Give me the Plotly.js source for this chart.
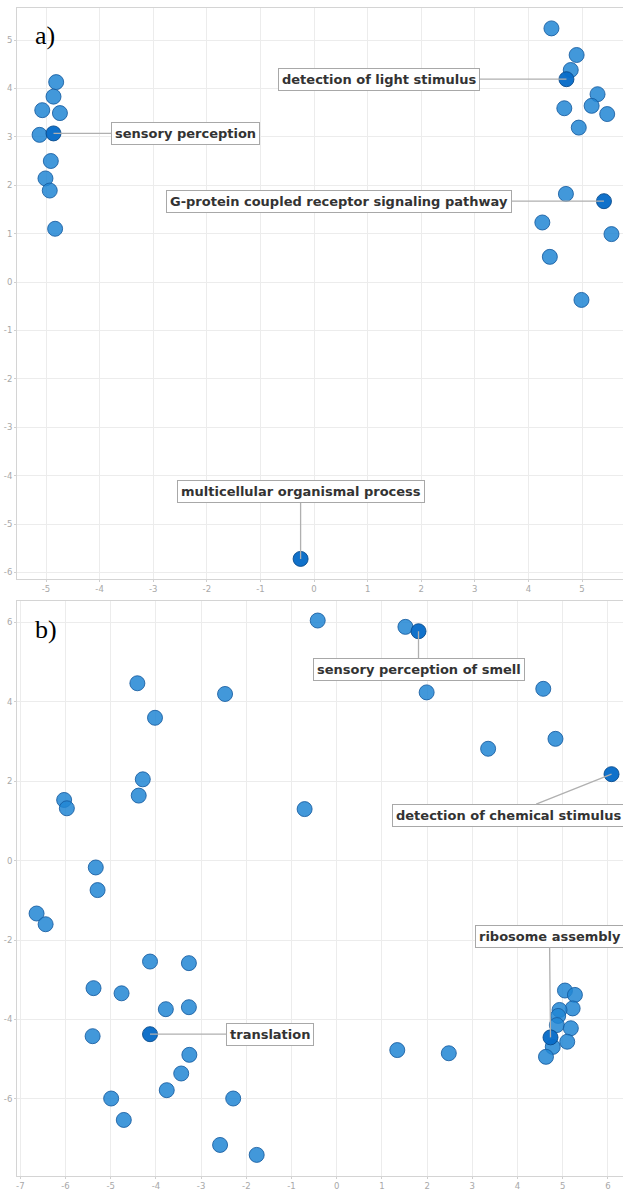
<!DOCTYPE html>
<html>
<head>
<meta charset="utf-8">
<script src="https://cdn.plot.ly/plotly-3.0.1.min.js"></script>
<style>
  html, body { margin: 0; padding: 0; overflow: hidden; background: #fff; }
  #chart { width: 623px; height: 1192px; }
</style>
</head>
<body>
<div id="chart"></div>
<script>
// Panel a: semantic coordinates of GO terms
const aX = [-4.81, -4.86, -5.07, -4.74, -5.12, -4.91, -5.01, -4.93, -4.83,
            4.43, 4.90, 4.79, 5.29, 4.67, 5.18, 5.47, 4.94, 4.70, 4.26, 5.55, 4.40, 4.99];
const aY = [4.13, 3.83, 3.55, 3.49, 3.04, 2.50, 2.14, 1.89, 1.10,
            5.24, 4.69, 4.38, 3.88, 3.59, 3.64, 3.47, 3.19, 1.82, 1.23, 0.99, 0.52, -0.37];
const aLabels = ["sensory perception", "detection of light stimulus",
                 "G-protein coupled receptor signaling pathway", "multicellular organismal process"];
const aLabelX = [-4.86, 4.71, 5.41, -0.25];
const aLabelY = [3.07, 4.19, 1.67, -5.72];

// Panel b: semantic coordinates of GO terms
const bX = [-0.42, -4.41, -2.47, -4.02, -4.29, -4.38, -6.03, -5.97, -0.71, -5.33, -5.29,
            -6.64, -6.44, -4.13, -3.27, -5.38, -4.76, -3.78, -3.27, -5.40, -3.26, -3.44,
            -3.76, -4.99, -2.29, -4.71, -2.58, -1.77, 1.52, 1.99, 4.57, 3.35, 4.84, 1.34,
            2.48, 5.05, 5.27, 5.22, 4.93, 4.90, 4.87, 5.18, 5.10, 4.78, 4.63];
const bY = [6.05, 4.47, 4.20, 3.60, 2.05, 1.64, 1.53, 1.32, 1.30, -0.17, -0.74,
            -1.33, -1.60, -2.54, -2.58, -3.21, -3.34, -3.74, -3.69, -4.42, -4.89, -5.36,
            -5.78, -5.99, -5.99, -6.53, -7.16, -7.41, 5.89, 4.24, 4.33, 2.82, 3.07, -4.77,
            -4.85, -3.27, -3.38, -3.72, -3.76, -3.91, -4.14, -4.22, -4.56, -4.69, -4.94];
const bLabels = ["sensory perception of smell", "detection of chemical stimulus",
                 "translation", "ribosome assembly"];
const bLabelX = [1.81, 6.08, -4.13, 4.73];
const bLabelY = [5.78, 2.18, -4.37, -4.45];

// Tick values for each axis
const aXTicks = [-5, -4, -3, -2, -1, 0, 1, 2, 3, 4, 5];
const aYTicks = [-6, -5, -4, -3, -2, -1, 0, 1, 2, 3, 4, 5];
const bXTicks = [-7, -6, -5, -4, -3, -2, -1, 0, 1, 2, 3, 4, 5, 6];
const bYTicks = [-6, -4, -2, 0, 2, 4, 6];

// Label box offsets (pixels from the point to the box centre)
const aOffX = [132, -187, -265, 0];
const aOffY = [0, 0, 0, -67];
const bOffX = [0, -103, 120, -1];
const bOffY = [38, 41, 0, -101];

const baseMarker = {
  size: 15,
  color: 'rgba(33,134,212,0.85)',
  line: { color: 'rgba(22,92,160,0.85)', width: 1 }
};
const hiMarker = {
  size: 15,
  color: 'rgba(8,108,200,0.97)',
  line: { color: 'rgba(10,75,140,0.9)', width: 1 }
};

const traces = [
  { x: aX, y: aY, xaxis: 'x', yaxis: 'y', type: 'scatter', mode: 'markers', marker: baseMarker },
  { x: aLabelX, y: aLabelY, xaxis: 'x', yaxis: 'y', type: 'scatter', mode: 'markers', marker: hiMarker },
  { x: bX, y: bY, xaxis: 'x2', yaxis: 'y2', type: 'scatter', mode: 'markers', marker: baseMarker },
  { x: bLabelX, y: bLabelY, xaxis: 'x2', yaxis: 'y2', type: 'scatter', mode: 'markers', marker: hiMarker }
];

const labelFont = { family: 'DejaVu Sans', size: 13, color: '#333333', weight: 'bold' };

function termNotes(names, xs, ys, offX, offY, xr, yr) {
  return names.map((t, i) => ({
    text: t, x: xs[i], y: ys[i], xref: xr, yref: yr,
    ax: offX[i], ay: offY[i], showarrow: true, arrowhead: 0,
    arrowcolor: '#b0b0b0', arrowwidth: 1.3, standoff: 0,
    bgcolor: '#ffffff', bordercolor: '#a8a8a8', borderwidth: 1, borderpad: 3,
    font: labelFont
  }));
}

const annotations = []
  .concat(termNotes(aLabels, aLabelX, aLabelY, aOffX, aOffY, 'x', 'y'))
  .concat(termNotes(bLabels, bLabelX, bLabelY, bOffX, bOffY, 'x2', 'y2'))
  .concat([
    { text: 'a)', xref: 'x domain', yref: 'y domain', x: 0.026, y: 0.951,
      xanchor: 'left', yanchor: 'middle', showarrow: false,
      font: { family: 'Liberation Serif', size: 26, color: '#000' } },
    { text: 'b)', xref: 'x2 domain', yref: 'y2 domain', x: 0.026, y: 0.951,
      xanchor: 'left', yanchor: 'middle', showarrow: false,
      font: { family: 'Liberation Serif', size: 26, color: '#000' } }
  ]);

// Tick labels with a plain hyphen for negatives
const tickText = vals => vals.map(v => String(v));

const tickFont = { family: 'DejaVu Sans', size: 8.5, color: '#a8a8a8' };
const axisCommon = {
  showgrid: true, gridcolor: '#ececec', gridwidth: 1,
  zeroline: false, showline: true, linecolor: '#d4d4d4', linewidth: 1,
  ticks: 'outside', ticklen: 2, tickcolor: '#cfcfcf', tickfont: tickFont,
  tickmode: 'array'
};

const layout = {
  width: 623, height: 1192,
  margin: { l: 17, r: 0, t: 8, b: 16 },
  paper_bgcolor: '#ffffff', plot_bgcolor: '#ffffff',
  showlegend: false,
  xaxis: Object.assign({}, axisCommon, { anchor: 'y', domain: [0, 1], range: [-5.541, 5.765],
    tickvals: aXTicks, ticktext: tickText(aXTicks), mirror: true }),
  yaxis: Object.assign({}, axisCommon, { anchor: 'x', domain: [0.5111, 1], range: [-6.136, 5.661],
    tickvals: aYTicks, ticktext: tickText(aYTicks) }),
  xaxis2: Object.assign({}, axisCommon, { anchor: 'y2', domain: [0, 1], range: [-7.073, 6.334],
    tickvals: bXTicks, ticktext: tickText(bXTicks), mirror: true }),
  yaxis2: Object.assign({}, axisCommon, { anchor: 'x2', domain: [0, 0.4923], range: [-7.942, 6.542],
    tickvals: bYTicks, ticktext: tickText(bYTicks) }),
  annotations: annotations
};

Plotly.newPlot('chart', traces, layout, { staticPlot: true, displayModeBar: false });
</script>
</body>
</html>
